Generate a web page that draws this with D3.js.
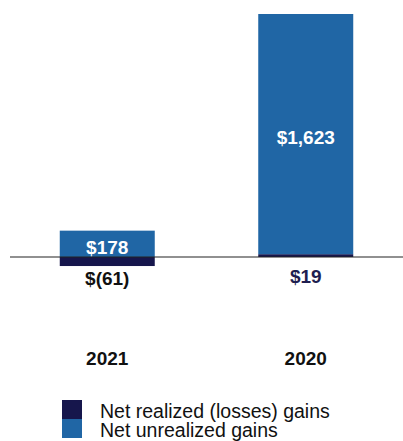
<!DOCTYPE html>
<html><head><meta charset="utf-8">
<script src="https://cdn.jsdelivr.net/npm/d3@7"></script>
<style>body{margin:0;background:#fff}svg{display:block;font-family:"Liberation Sans",Arial,sans-serif}</style>
</head><body><svg id="c" width="403" height="441"></svg>
<script>
const years = ["2021", "2020"];
const realized = [-61, 19];
const unrealized = [178, 1623];
const realizedLabels = ["$(61)", "$19"];
const unrealizedLabels = ["$178", "$1,623"];
const seriesNames = ["Net realized (losses) gains", "Net unrealized gains"];
const colors = ["#16164c", "#2066a5"];

const svg = d3.select("#c");
const rows = years.map((y, i) => ({year: y, realized: realized[i], unrealized: unrealized[i]}));
const stack = d3.stack().keys(["realized", "unrealized"]).offset(d3.stackOffsetDiverging);
const series = stack(rows);

const x = d3.scaleBand().domain(years).range([10, 403]).paddingInner(0.5214).paddingOuter(0.2507);
const y = d3.scaleLinear().domain([0, 1642]).range([257, 14]);

svg.append("g").selectAll("g").data(series).join("g")
  .attr("fill", (d, i) => colors[i])
  .selectAll("rect").data(d => d).join("rect")
  .attr("x", d => x(d.data.year))
  .attr("width", x.bandwidth())
  .attr("y", d => y(Math.max(d[0], d[1])))
  .attr("height", d => Math.abs(y(d[0]) - y(d[1])));

svg.append("line").attr("x1", 10).attr("x2", 403).attr("y1", y(0)).attr("y2", y(0))
  .attr("stroke", "#222").attr("stroke-width", 1.2);

// unrealized labels in blue segment
series[1].forEach((d, i) => {
  svg.append("text").attr("x", x(years[i]) + x.bandwidth() / 2)
    .attr("y", (y(d[0]) + y(d[1])) / 2 + 3).attr("dy", "0.36em")
    .attr("text-anchor", "middle").attr("fill", "#fff")
    .attr("font-weight", "bold").attr("font-size", 19).text(unrealizedLabels[i]);
});
// realized labels below axis
const rColors = ["#111", "#1e1e50"];
const rY = [285, 283];
years.forEach((yr, i) => {
  svg.append("text").attr("x", x(yr) + x.bandwidth() / 2).attr("y", rY[i])
    .attr("text-anchor", "middle").attr("fill", rColors[i])
    .attr("font-weight", "bold").attr("font-size", 19).text(realizedLabels[i]);
});
// year labels
years.forEach(yr => {
  svg.append("text").attr("x", x(yr) + x.bandwidth() / 2).attr("y", 365)
    .attr("text-anchor", "middle").attr("fill", "#111")
    .attr("font-weight", "bold").attr("font-size", 19).text(yr);
});
// legend
seriesNames.forEach((n, i) => {
  const g = svg.append("g").attr("transform", `translate(62,${400 + i * 19})`);
  g.append("rect").attr("width", 20).attr("height", 19).attr("fill", colors[i]);
  g.append("text").attr("x", 38).attr("y", 18.3).attr("font-size", 19.5).attr("fill", "#111").text(n);
});
</script></body></html>
